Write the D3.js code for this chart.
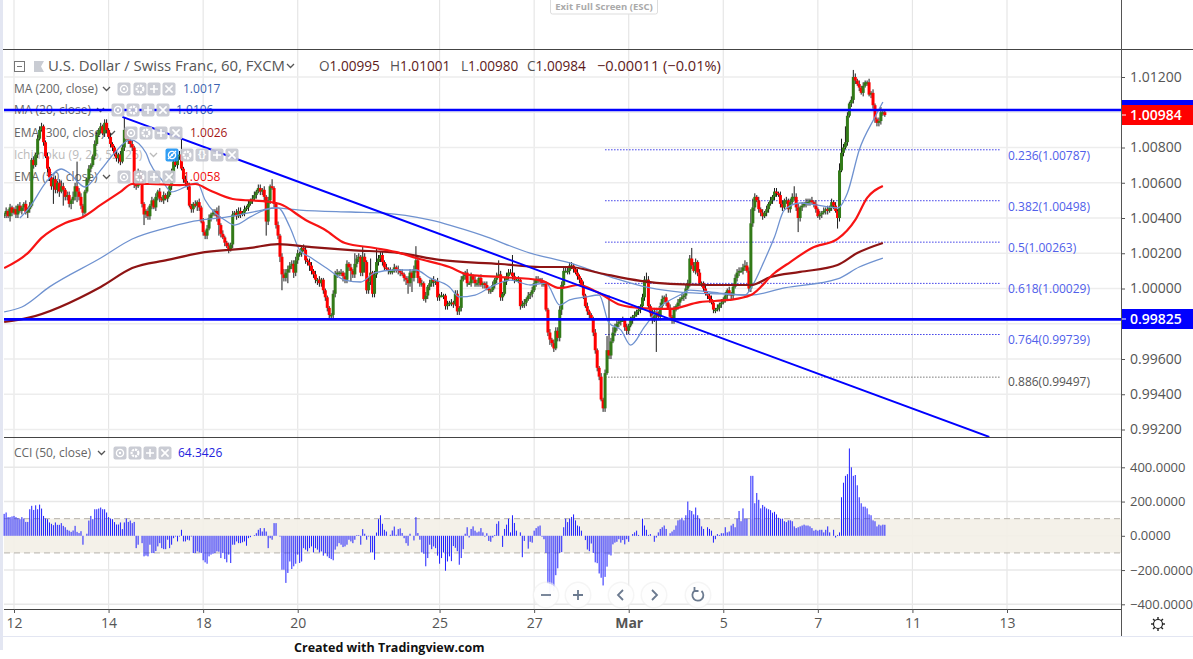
<!DOCTYPE html>
<html>
<head>
<meta charset="utf-8">
<title>USD/CHF 60</title>
<script src="https://cdnjs.cloudflare.com/ajax/libs/d3/7.8.5/d3.min.js"></script>
<style>
  html, body { margin: 0; padding: 0; background: #fff; overflow: hidden; }
  text { font-family: "Open Sans", "Liberation Sans", sans-serif; }
</style>
</head>
<body>
<svg id="chart" width="1193" height="659"></svg>
<script>
// Hourly bars, all prices in pips from parity (42 = 1.0042). Opens are the previous close.
const closes = [
  42,44,41,46,43,45,42,47,44,46,48,43,45,47,73,70,76,85,90,92,83,75,68,63,
  58,62,56,60,55,58,56,52,53,48,50,52,58,55,52,47,43,55,62,68,70,75,82,87,
  90,92,88,94,90,86,82,80,76,74,76,72,80,90,85,84,82,80,60,58,66,64,48,42,
  44,41,47,50,46,52,55,51,50,53,51,53,58,66,72,70,75,76,68,62,60,58,47,45,
  48,47,49,46,38,32,30,34,40,42,43,44,41,36,31,29,26,24,22,25,42,43,41,44,
  42,43,45,46,48,50,51,53,55,57,55,56,52,38,50,58,57,48,36,30,18,8,6,9,
  11,13,14,9,16,20,20,23,22,16,15,13,10,8,5,5,3,5,-1,-5,-11,-15,-15,-3,
  8,9,9,9,7,5,14,12,10,8,14,17,18,9,18,15,-1,4,9,-3,8,15,17,19,
  15,12,11,10,10,10,12,11,10,9,8,6,5,3,9,6,11,16,6,3,3,-6,-4,1,
  3,5,4,4,-5,-4,-4,-4,-10,-9,-8,-8,-9,-3,-13,-11,5,7,9,3,3,7,5,3,
  3,6,2,3,2,0,-1,-1,2,5,7,8,-5,-3,4,7,9,9,7,5,5,5,-10,-9,
  -8,-6,-4,-3,-1,3,5,5,4,3,3,-12,-25,-29,-31,-34,-24,-28,-12,2,10,10,10,13,
  13,11,9,7,5,2,-4,-10,-13,-15,-17,-25,-35,-45,-50,-63,-68,-48,-35,-38,-30,-25,-22,-20,
  -19,-18,-18,-22,-24,-21,-18,-16,-15,-13,-12,-10,-5,5,5,-10,-14,-18,-13,-14,-16,-10,-6,-5,
  -8,-11,-16,-18,-12,-10,-8,-6,-5,-4,0,3,17,13,10,15,9,3,3,0,-3,-4,-6,-8,
  -12,-12,-11,-9,-8,-6,-4,-1,-3,-4,1,6,9,10,10,12,13,10,0,37,46,52,50,45,
  43,41,43,45,48,50,52,55,54,53,48,46,50,50,45,49,52,52,46,40,46,47,48,49,
  49,50,49,48,45,41,42,43,44,45,44,46,49,47,44,40,67,77,80,83,98,105,107,120,
  118,116,114,111,115,117,117,110,111,104,96,94,95,100,100,98.4
];
// how far each wick reaches past the candle body, in pips
const wickUp = [
  1,2,1,2,1,1,2,1,2,1,1,2,1,2,1,2,1,2,2,2,1,1,2,1,
  2,1,2,1,2,3,2,1,2,2,1,3,2,14,2,2,1,1,1,2,1,1,2,2,
  1,2,1,2,2,1,2,1,1,2,1,2,2,7,1,2,1,2,1,1,2,1,2,1,
  1,2,1,2,1,2,1,2,1,2,1,2,1,2,1,2,1,2,9,1,2,1,2,1,
  1,2,1,2,1,2,1,2,2,1,2,1,2,6,1,2,1,1,2,1,2,1,2,2,
  2,1,2,1,2,1,2,2,1,2,2,1,2,1,2,1,4,1,1,2,1,2,3,2,
  2,2,2,2,2,2,1,1,2,2,1,2,2,1,2,1,2,1,1,1,1,1,1,2,
  2,2,1,2,1,2,2,1,2,1,6,2,2,1,6,2,1,2,8,1,2,8,2,2,
  2,1,2,1,2,1,2,1,2,1,2,1,1,2,2,1,2,8,2,1,2,1,2,1,
  2,1,2,1,2,1,2,1,1,2,1,2,1,2,2,1,2,2,1,2,1,2,1,2,
  2,1,2,1,1,2,1,1,2,1,2,8,2,1,2,2,2,2,10,2,1,2,1,2,
  2,1,2,1,2,2,2,2,1,2,1,1,1,2,1,2,2,2,2,2,2,2,2,2,
  2,1,1,2,1,1,2,1,2,1,1,1,2,1,1,2,1,2,8,31,2,3,2,2,
  2,1,2,1,2,1,2,1,2,1,2,1,2,2,4,2,1,2,2,2,1,2,2,1,
  2,1,2,1,2,1,2,1,2,1,2,2,2,6,2,2,1,2,1,1,2,1,1,2,
  1,1,2,1,2,1,2,1,2,1,2,2,2,2,2,2,3,2,2,8,5,2,1,2,
  1,2,1,2,1,2,1,2,2,1,2,2,1,2,1,2,2,6,2,2,1,2,1,2,
  2,1,2,1,2,1,2,1,2,1,2,1,2,1,2,1,4,8,2,9,2,1,2,4,
  2,1,2,1,2,1,1,2,1,2,1,1,2,3,1,1
];
const wickDown = [
  2,2,1,3,2,1,2,2,1,2,2,1,3,2,1,2,1,2,1,1,2,1,2,2,
  2,10,2,2,3,1,9,2,2,2,3,2,2,6,2,2,2,1,1,2,2,1,2,1,
  1,2,1,2,2,1,2,2,1,2,3,2,1,2,1,2,2,2,3,2,1,2,2,6,
  2,2,2,2,1,2,2,2,1,2,1,2,1,2,2,1,2,2,1,2,2,2,1,2,
  2,1,3,2,1,2,2,2,1,2,1,2,3,6,2,1,2,1,2,1,2,1,2,1,
  2,1,2,1,2,1,2,1,2,1,2,2,3,8,2,2,1,2,2,2,3,9,2,2,
  6,2,2,3,2,2,2,2,1,2,2,3,2,2,2,3,2,2,2,2,2,2,2,2,
  2,2,2,2,3,2,2,2,6,2,2,2,2,2,2,6,2,2,2,2,2,2,2,2,
  2,2,1,2,2,2,1,2,2,2,1,2,3,6,2,8,2,2,3,2,2,1,2,2,
  2,2,3,2,2,2,1,2,2,2,1,2,2,1,2,2,2,1,2,2,1,2,2,2,
  2,2,1,2,2,1,2,2,1,2,2,1,2,2,1,2,2,1,2,2,1,2,2,1,
  2,2,1,2,2,1,2,2,1,2,2,1,2,3,2,2,1,2,2,3,2,1,2,2,
  2,2,1,2,2,1,2,1,2,2,1,2,2,2,2,1,2,2,1,2,2,1,2,2,
  2,2,1,2,2,2,1,2,2,1,2,2,1,2,2,1,2,2,1,22,2,2,1,2,
  2,1,2,2,2,1,2,2,1,2,2,1,2,2,1,2,2,1,2,2,1,2,2,1,
  2,2,1,2,2,1,2,2,1,2,2,1,2,2,1,2,2,1,2,2,2,2,1,2,
  2,2,1,2,2,1,2,2,2,1,2,2,1,2,2,2,1,2,2,8,2,2,1,2,
  2,2,1,2,2,1,2,2,1,2,2,1,2,2,1,6,2,1,2,1,2,1,2,2,
  2,1,2,1,2,1,2,1,2,2,2,2,2,2,2,1
];

// moving averages: bar number, then value in pips
const ma20Bars = [8,13,21,29,33,41,49,56,64,72,74,80,85,92,98,102,107,112,117,125,132,139,145,150,156,165,173,181,188,198,209,216,226,231,239,247,257,267,275,282,287,295,302,307,313,318,325,333,343,348,363,376,380,386,391,396,404,412,423,428,434,442,446];
const ma20Vals = [40,46.2,59.9,67.8,65.5,57.6,67.2,76.9,84.3,76.9,71.2,61.6,54.8,57.6,59.9,50.2,42.8,38.9,36,40.6,44.5,45.7,34.9,21.8,17.3,10.5,4.8,3.7,8.8,10.5,10.5,6,0.9,-4.8,-3.7,0.9,4.8,2,3.1,-9.4,-6.5,-4.8,-3.7,-19.6,-23.5,-32.1,-21.8,-10.5,-3.7,-0.9,-2.6,-3.7,2,16.2,29.2,44.5,48.5,47.4,45.7,54.2,78.6,97.3,105.8];
const ma200Bars = [0,9,23,49,65,82,94,116,131,137,150,176,193,216,242,267,287,308,328,343,364,379,396,423,434,446];
const ma200Vals = [-13.3,-10.5,0.9,17.3,28.1,34.3,37.7,41.1,44.5,45.7,44.5,43.4,42.8,38.9,30.4,20.1,14.5,6.5,0.3,-2,-3.1,-3.7,0.3,5.4,12.2,17.3];
const ema50Bars = [0,12,19,31,40,49,59,65,74,89,97,104,116,135,140,153,163,173,188,201,209,226,236,252,272,282,292,301,313,323,338,353,368,379,391,399,410,423,432,438,446];
const ema50Vals = [11.6,20.1,28.7,37.2,40.6,47.4,54.8,59.3,59.3,58.7,59.3,55.9,50.8,49.1,47.9,38.9,33.2,25.8,23,20.1,17.3,12.2,7.7,6.5,4.8,0.3,2,-2,-9.4,-11.1,-11.6,-7.7,-6.5,-3.7,8.8,15,23,28.1,38.9,51.4,58.2];
const ema300Bars = [0,12,49,65,83,99,125,139,156,176,201,221,252,272,287,302,323,338,358,379,389,404,423,433,446];
const ema300Vals = [-19,-16.7,0.9,11.6,16.2,20.1,23,25.2,23.5,21.8,20.1,16.2,13.9,12.2,12.2,8.8,4.3,2.6,2,2,6.5,9.4,13.3,20.1,25.8];

const cciValues = [
  128,136,109,109,113,116,109,103,97,109,101,81,81,155,175,151,178,155,182,159,116,101,97,78,70,62,78,64,64,74,58,50,35,30,23,31,58,23,16,27,-52,0,12,89,116,97,155,155,159,165,155,155,136,109,101,97,80,66,66,78,39,78,101,81,89,74,81,
  -72,-52,0,-43,-120,-116,-120,-52,-101,-101,-89,-62,-43,-72,-78,-78,-23,-72,-52,-14,-4,-33,-4,35,-33,-33,-23,-27,-4,-101,-101,-91,-97,-101,-143,-155,-163,-120,-110,-105,-101,-91,-93,-130,-101,-136,-155,-110,-159,-52,-52,-33,-43,-43,-38,-33,-58,-14,-8,0,4,15,35,45,25,45,25,-72,-14,-23,74,74,0,-4,-198,-198,-275,-217,-150,-194,-178,-163,-110,-159,-150,-72,-81,-91,-72,-62,-97,-72,-81,-97,-91,-116,-101,-120,-130,-136,-143,-81,-62,-43,-52,-66,-62,-52,-23,-33,-43,-23,4,4,-52,39,12,-23,-4,-97,-97,-140,19,97,120,70,35,25,0,6,31,54,6,39,43,16,-14,-43,-58,12,0,-27,109,16,-23,-97,-105,-178,-130,-52,-78,-62,-72,-116,-163,-130,-97,-204,-150,-120,
  -148,-60,-70,-90,-169,-130,-78,12,50,-10,40,55,30,20,25,45,20,-5,15,-30,-35,-10,5,70,85,0,-65,40,65,100,20,120,75,30,0,20,-125,-30,0,-75,-35,-40,30,45,55,60,-5,-20,-100,-280,-369,-300,-324,-230,-190,-100,-95,50,100,80,100,110,125,90,60,55,30,0,-25,-80,-90,-45,-100,-155,-160,-220,-245,-290,-240,-180,-110,-115,-50,-40,-35,-20,-40,-25,-50,-20,-35,0,10,20,30,5,0,100,60,35,5,10,0,-35,-10,20,40,50,60,40,0,15,25,35,60,90,95,105,90,120,200,150,145,125,165,120,100,55,40,0,50,40,30,-40,-20,10,5,15,15,50,20,25,60,70,50,100,145,85,160,100,100,0,350,350,190,250,210,160,180,170,160,155,150,135,140,125,105,100,100,85,80,90,90,85,55,45,50,55,60,65,60,60,55,45,30,35,30,35,35,20,35,55,20,0,35,-10,5,20,225,310,350,360,510,400,350,355,295,225,190,170,170,160,125,120,90,85,55,65,60,65,64.3
];

const priceTicks = [1.012, 1.01, 1.008, 1.006, 1.004, 1.002, 1, 0.998, 0.996, 0.994, 0.992];
const priceTickHidden = [1.01, 0.998]; // covered by the price tags
const cciTicks = [400, 200, 0, -200, -400];
const dayNumbers = [0, 2, 4, 6, 9, 11, 13, 15, 17, 19, 21];
const dayLabels = ["12", "14", "18", "20", "25", "27", "Mar", "5", "7", "11", "13"];
const fibRatios = ["0.236", "0.382", "0.5", "0.618", "0.764", "0.886"];
const fibPrices = [1.00787, 1.00498, 1.00263, 1.00029, 0.99739, 0.99497];
const supportLevels = [1.01013, 0.99825];
const trendBars = [60, 500];
const trendPrices = [1.00974, 0.99158];

const width = 1193, height = 659;
const paneLeft = 4, paneRight = 1121, paneTop = 49, priceBottom = 437, cciBottom = 609, axisBottom = 636;
const blue = "#0000ff", textGrey = "#555";

const svg = d3.select("#chart");
const toPrice = pips => 1 + pips / 10000;

// scales
const x = d3.scaleLinear().domain([0, 509]).range([4.15, 1007]);
const y = d3.scaleLinear().domain([0.992, 1.012]).range([429.5, 77]);
const yCci = d3.scaleLinear().domain([-400, 400]).range([604.3, 467.3]);
const dayToBar = d => 5 + d * 24;

// page pieces
svg.append("rect").attr("width", width).attr("height", height).attr("fill", "#fff");
svg.append("rect").attr("width", 3).attr("height", 650).attr("fill", "#e3e6f2");

// grid
const grid = svg.append("g");
grid.selectAll("line.v").data(dayNumbers).enter().append("line")
  .attr("x1", d => x(dayToBar(d))).attr("x2", d => x(dayToBar(d)))
  .attr("y1", 0).attr("y2", cciBottom)
  .attr("stroke", "#e6e6e6").attr("stroke-width", 1.2);
grid.selectAll("line.p").data(priceTicks).enter().append("line")
  .attr("x1", paneLeft).attr("x2", paneRight)
  .attr("y1", d => y(d)).attr("y2", d => y(d))
  .attr("stroke", "#ededed").attr("stroke-width", 1.6);
grid.selectAll("line.c").data(cciTicks).enter().append("line")
  .attr("x1", paneLeft).attr("x2", paneRight)
  .attr("y1", d => yCci(d)).attr("y2", d => yCci(d))
  .attr("stroke", "#e8e8e8").attr("stroke-width", 1.4);

// legend text sits under the candles
const legend = svg.append("g");
function label(g, px, py, str, color, size, weight) {
  return g.append("text").attr("x", px).attr("y", py).attr("dy", "0.35em")
    .attr("fill", color).attr("font-size", size || 13).attr("font-weight", weight || 400).text(str);
}
function chevron(g, px, py, color) {
  g.append("path").attr("d", `M${px},${py - 2} l3.5,3.5 l3.5,-3.5`).attr("fill", "none")
    .attr("stroke", color || "#555").attr("stroke-width", 1.3);
}
label(legend, 48, 66, "U.S. Dollar / Swiss Franc, 60, FXCM", "#555", 14.9);
chevron(legend, 287, 66);
const ohlc = [["O", "1.00995", 319], ["H", "1.01001", 390], ["L", "1.00980", 461], ["C", "1.00984", 527]];
ohlc.forEach(o => {
  const t = label(legend, o[2], 66, "", "#5d1a1a", 13.6);
  t.append("tspan").attr("fill", "#555").text(o[0]);
  t.append("tspan").text(o[1]);
});
label(legend, 597, 66, "\u22120.00011 (\u22120.01%)", "#5d1a1a", 14.6);
label(legend, 14, 89, "MA (200, close)", "#666", 12);
chevron(legend, 103, 89);
label(legend, 183, 89, "1.0017", "#3a62b0", 12);
label(legend, 14, 110, "MA (20, close)", "#666", 12);
chevron(legend, 97, 110);
label(legend, 176, 110, "1.0106", "#3a62b0", 12);
label(legend, 14, 133, "EMA (300, close)", "#666", 12);
chevron(legend, 108, 133);
label(legend, 190, 133, "1.0026", "#a51818", 12);
label(legend, 14, 155, "Ichimoku (9, 26, 52, 26)", "#bbb", 12);
chevron(legend, 150, 155, "#bbb");
label(legend, 14, 177, "EMA (50, close)", "#666", 12);
chevron(legend, 103, 177);
label(legend, 183, 177, "1.0058", "#f01010", 12);
label(legend, 14, 453, "CCI (50, close)", "#666", 12);
chevron(legend, 98, 453);
label(legend, 178, 453, "64.3426", "#2222dd", 12);

// cci band
svg.append("rect")
  .attr("x", paneLeft).attr("width", paneRight - paneLeft)
  .attr("y", yCci(100)).attr("height", yCci(-100) - yCci(100))
  .attr("fill", "#f3efe7").attr("fill-opacity", 0.9);
[100, -100].forEach(v => {
  svg.append("line").attr("x1", paneLeft).attr("x2", paneRight)
    .attr("y1", yCci(v)).attr("y2", yCci(v))
    .attr("stroke", "#b5b1aa").attr("stroke-dasharray", "6,4");
});

// cci bars
svg.append("g").selectAll("line").data(cciValues).enter().append("line")
  .attr("x1", (d, i) => x(i)).attr("x2", (d, i) => x(i))
  .attr("y1", yCci(0)).attr("y2", d => yCci(d))
  .attr("stroke", "#1f1fff").attr("stroke-width", 1);

// clip for the price pane
svg.append("clipPath").attr("id", "priceClip").append("rect")
  .attr("x", paneLeft).attr("y", paneTop).attr("width", paneRight - paneLeft).attr("height", priceBottom - paneTop);
const pricePane = svg.append("g").attr("clip-path", "url(#priceClip)");

// fib levels
pricePane.selectAll("line.fib").data(fibPrices).enter().append("line")
  .attr("x1", x(305)).attr("x2", x(506))
  .attr("y1", d => y(d)).attr("y2", d => y(d))
  .attr("stroke", (d, i) => i === 5 ? "#777" : "#3f3fe8")
  .attr("stroke-width", 1).attr("stroke-dasharray", "1.5,1.5");

// candles
const bars = closes.map((c, i) => {
  const open = i === 0 ? c : closes[i - 1];
  return {
    i: i, open: open, close: c,
    high: Math.max(open, c) + (wickUp[i] || 0),
    low: Math.min(open, c) - (wickDown[i] || 0)
  };
});
pricePane.append("g").selectAll("line").data(bars).enter().append("line")
  .attr("x1", d => x(d.i)).attr("x2", d => x(d.i))
  .attr("y1", d => y(toPrice(d.high))).attr("y2", d => y(toPrice(d.low)))
  .attr("stroke", "#1a1a1a").attr("stroke-width", 1);
pricePane.append("g").selectAll("rect").data(bars).enter().append("rect")
  .attr("x", d => x(d.i) - 1.5).attr("width", 3)
  .attr("y", d => y(toPrice(Math.max(d.open, d.close))))
  .attr("height", d => Math.max(1.5, Math.abs(y(toPrice(d.open)) - y(toPrice(d.close)))))
  .attr("fill", d => d.close >= d.open ? "#327a18" : "#ff0000");

// moving averages
function drawAverage(barNums, vals, color, w) {
  const line = d3.line().x(d => x(d[0])).y(d => y(toPrice(d[1]))).curve(d3.curveMonotoneX);
  pricePane.append("path").attr("d", line(d3.zip(barNums, vals)))
    .attr("fill", "none").attr("stroke", color).attr("stroke-width", w);
}
drawAverage(ma200Bars, ma200Vals, "#6f92d0", 1.3);
drawAverage(ma20Bars, ma20Vals, "#6f92d0", 1.3);
drawAverage(ema300Bars, ema300Vals, "#8e1414", 2.2);
drawAverage(ema50Bars, ema50Vals, "#f81414", 2.2);

// trend line and the two horizontal levels
pricePane.append("line")
  .attr("x1", x(trendBars[0])).attr("x2", x(trendBars[1]))
  .attr("y1", y(trendPrices[0])).attr("y2", y(trendPrices[1]))
  .attr("stroke", blue).attr("stroke-width", 2);
pricePane.selectAll("line.level").data(supportLevels).enter().append("line")
  .attr("x1", paneLeft).attr("x2", paneRight)
  .attr("y1", d => y(d)).attr("y2", d => y(d))
  .attr("stroke", blue).attr("stroke-width", 2.6);

// fib labels
const fibLabelY = [156, 207, 248, 289, 340, 382];
fibRatios.forEach((r, i) => {
  label(svg, 1008, fibLabelY[i], r + "(" + fibPrices[i].toFixed(5) + ")", i === 5 ? "#555" : "#5060ea", 12);
});

// legend buttons
function icon(px, py, kind, on) {
  const g = svg.append("g").attr("transform", `translate(${px},${py})`);
  g.append("rect").attr("x", -6.5).attr("y", -6.5).attr("width", 13).attr("height", 13).attr("rx", 2)
    .attr("fill", on ? "#2196f3" : "#c5c8d0").attr("fill-opacity", 0.92);
  const st = { fill: "none", stroke: "#fff", "stroke-width": 1.6 };
  if (kind === "eye") {
    g.append("circle").attr("r", 3.6).attr("fill", "none").attr("stroke", "#fff").attr("stroke-width", 1.3);
    g.append("circle").attr("r", 1.2).attr("fill", "#fff");
    if (on) g.append("line").attr("x1", -4).attr("y1", 4).attr("x2", 4).attr("y2", -4).attr("stroke", "#fff").attr("stroke-width", 1.3);
  } else if (kind === "gear") {
    g.append("circle").attr("r", 3.4).attr("fill", "none").attr("stroke", "#fff").attr("stroke-width", 2.2).attr("stroke-dasharray", "2.2,0.9");
  } else if (kind === "plus") {
    g.append("path").attr("d", "M-4,0H4M0,-4V4").attr("fill", st.fill).attr("stroke", st.stroke).attr("stroke-width", st["stroke-width"]);
  } else if (kind === "x") {
    g.append("path").attr("d", "M-3.6,-3.6L3.6,3.6M3.6,-3.6L-3.6,3.6").attr("fill", st.fill).attr("stroke", st.stroke).attr("stroke-width", st["stroke-width"]);
  } else if (kind === "braces") {
    g.append("text").attr("text-anchor", "middle").attr("dy", "0.33em").attr("font-size", 10).attr("font-weight", 700).attr("fill", "#fff").text("{}");
  }
}
const iconRows = [
  [89, [124, 140, 154, 169]],
  [110, [118, 133, 148, 163]],
  [133, [131, 146, 161, 176]],
  [177, [124, 140, 154, 169]],
  [453, [120, 135, 150, 165]]
];
iconRows.forEach(row => {
  ["eye", "gear", "plus", "x"].forEach((k, i) => icon(row[1][i], row[0], k));
});
icon(172, 155, "eye", true);
icon(187, 155, "gear");
icon(202, 155, "braces");
icon(217, 155, "plus");
icon(232, 155, "x");

// collapse box and symbol flag
svg.append("rect").attr("x", 14.5).attr("y", 61.5).attr("width", 10).attr("height", 10)
  .attr("fill", "#fff").attr("stroke", "#777");
svg.append("line").attr("x1", 17).attr("x2", 22).attr("y1", 66.5).attr("y2", 66.5).attr("stroke", "#777");
svg.append("path").attr("d", "M34,61H44L41,66.5L44,72H34Z").attr("fill", "#c9ccd3");

// pane borders
[[3, 1193, paneTop], [paneLeft, paneRight, priceBottom], [paneLeft, paneRight, cciBottom]].forEach(b => {
  svg.append("line").attr("x1", b[0]).attr("x2", b[1]).attr("y1", b[2] + 0.5).attr("y2", b[2] + 0.5).attr("stroke", "#444");
});
svg.append("line").attr("x1", 1121.5).attr("x2", 1121.5).attr("y1", 0).attr("y2", axisBottom).attr("stroke", "#555");
svg.append("line").attr("x1", 3).attr("x2", 1193).attr("y1", axisBottom + 0.5).attr("y2", axisBottom + 0.5).attr("stroke", "#e3e6f2");

// price axis
function styleAxis(g, size) {
  g.select(".domain").remove();
  g.selectAll(".tick line").attr("stroke", "#555");
  g.selectAll(".tick text").attr("fill", textGrey).attr("font-size", size || 14)
    .style("font-family", '"Open Sans", "Liberation Sans", sans-serif');
}
svg.append("g").attr("transform", `translate(${paneRight},0)`)
  .call(d3.axisRight(y).tickValues(priceTicks.filter(t => !priceTickHidden.includes(t)))
    .tickFormat(d3.format(".5f")).tickSize(4).tickPadding(5))
  .call(g => styleAxis(g));
svg.append("g").attr("transform", `translate(${paneRight},0)`)
  .call(d3.axisRight(yCci).tickValues(cciTicks)
    .tickFormat(d => (d < 0 ? "\u2212" : "") + Math.abs(d).toFixed(4)).tickSize(4).tickPadding(5))
  .call(g => styleAxis(g, 13));

// time axis
svg.append("g").attr("transform", `translate(0,${cciBottom})`)
  .call(d3.axisBottom(x).tickValues(dayNumbers.map(dayToBar))
    .tickFormat((d, i) => dayLabels[i]).tickSize(4).tickPadding(5))
  .call(g => styleAxis(g))
  .selectAll(".tick text")
  .attr("font-weight", (d, i) => dayLabels[i] === "Mar" ? 700 : 400);

// price tags
function tag(top, h, str, fill) {
  svg.append("rect").attr("x", 1122).attr("y", top).attr("width", 71).attr("height", h).attr("fill", fill);
  svg.append("line").attr("x1", 1122).attr("x2", 1126).attr("y1", top + h / 2).attr("y2", top + h / 2).attr("stroke", "#fff");
  svg.append("text").attr("x", 1130).attr("y", top + h / 2).attr("dy", "0.35em")
    .attr("fill", "#fff").attr("font-size", 14).attr("font-weight", 600).text(str);
}
tag(100, 20, "1.01013", blue);
tag(105, 20, "1.00984", "#ff0000");
tag(309, 20, "0.99825", blue);

// chart navigation buttons
const navX = [546, 578, 621, 654, 698];
const navGlyph = ["M-5,0H5", "M-5,0H5M0,-5V5", "M2,-5L-3,0L2,5", "M-2,-5L3,0L-2,5", "M3.5,-4A5.5,5.5 0 1 1 -3.5,-4.2M-3.5,-8V-4H0.5"];
navX.forEach((px, i) => {
  const g = svg.append("g").attr("transform", `translate(${px},595)`);
  g.append("circle").attr("r", 13.5).attr("fill", "#eee").attr("fill-opacity", 0.6);
  g.append("circle").attr("r", 12).attr("fill", "#fff").attr("fill-opacity", 0.9);
  g.append("path").attr("d", navGlyph[i]).attr("fill", "none").attr("stroke", "#6b7a8f").attr("stroke-width", 1.8);
});

// settings gear
const gear = svg.append("g").attr("transform", "translate(1158,624)");
gear.append("circle").attr("r", 4.5).attr("fill", "none").attr("stroke", "#222").attr("stroke-width", 1.2);
d3.range(0, 360, 45).forEach(a => {
  gear.append("line").attr("x1", 0).attr("x2", 0).attr("y1", -4.5).attr("y2", -7)
    .attr("transform", `rotate(${a})`).attr("stroke", "#222").attr("stroke-width", 1.4);
});

// exit button and footer
svg.append("rect").attr("x", 550.5).attr("y", -2).attr("width", 107).attr("height", 16).attr("rx", 2)
  .attr("fill", "#fff").attr("stroke", "#ddd");
svg.append("text").attr("x", 604).attr("y", 7).attr("dy", "0.3em").attr("text-anchor", "middle")
  .attr("fill", "#aaa").attr("font-size", 9.5).attr("font-weight", 700).text("Exit Full Screen (ESC)");
svg.append("text").attr("x", 294).attr("y", 652).attr("fill", "#111")
  .attr("font-size", 12.5).attr("font-weight", 700).text("Created with Tradingview.com");
</script>
</body>
</html>
